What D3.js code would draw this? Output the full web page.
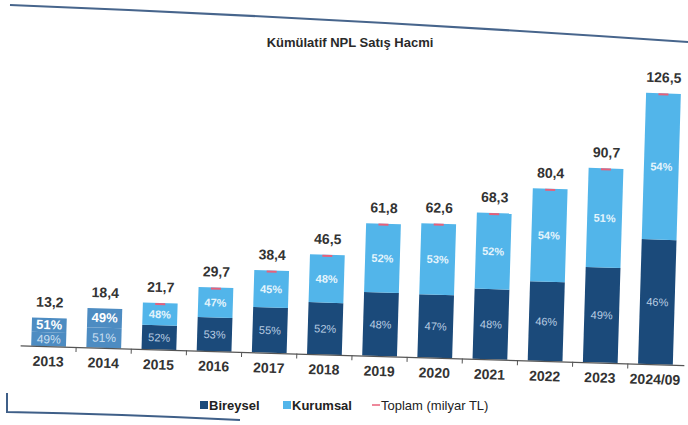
<!DOCTYPE html>
<html>
<head>
<meta charset="utf-8">
<script src="https://cdn.jsdelivr.net/npm/d3@7"></script>
<style>
  body { margin: 0; background: #fff; }
  svg { font-family: "Liberation Sans", Arial, sans-serif; }
</style>
</head>
<body>
<div id="chart"></div>
<script>
"use strict";

// values
const years = ["2013", "2014", "2015", "2016", "2017", "2018", "2019", "2020", "2021", "2022", "2023", "2024/09"];
const totals = [13.2, 18.4, 21.7, 29.7, 38.4, 46.5, 61.8, 62.6, 68.3, 80.4, 90.7, 126.5];
const bireyselPct = [49, 51, 52, 53, 55, 52, 48, 47, 48, 46, 49, 46];
const kurumsalPct = [51, 49, 48, 47, 45, 48, 52, 53, 52, 54, 51, 54];
// first two years are pasted in as a single-colour box in the source
const patchedYears = ["2013", "2014"];

const width = 688, height = 425;
const baseY = 355;
const colors = { bireysel: "#1b4a7a", kurumsal: "#52b5ea", patched: "#4d8cc2", toplam: "#e8607a" };

const svg = d3.select("#chart").append("svg")
    .attr("width", width)
    .attr("height", height);

// scan frame bits
svg.append("path")
    .attr("d", "M10,5 Q340,18 688,42")
    .attr("fill", "none").attr("stroke", "#47658c").attr("stroke-width", 2.2);
svg.append("path")
    .attr("d", "M7,393 L7,412 Q120,414 240,420")
    .attr("fill", "none").attr("stroke", "#3f5f88").attr("stroke-width", 2);

svg.append("text")
    .attr("x", 350).attr("y", 47)
    .attr("text-anchor", "middle")
    .attr("font-size", 13).attr("font-weight", "bold").attr("fill", "#2a2a2a")
    .attr("font-family", "'Liberation Sans Narrow', 'Liberation Sans', Arial, sans-serif")
    .style("font-stretch", "condensed")
    .text("Kümülatif NPL Satış Hacmi");

// the page is a little rotated in the scan
const g = svg.append("g").attr("transform", `rotate(1.7, 344, ${baseY})`);

const x = d3.scaleBand().domain(years).range([20, 684]).paddingInner(0.37).paddingOuter(0.2);
const y = d3.scaleLinear().domain([0, 126.5]).range([baseY, baseY - 271]);

const data = years.map((yr, i) => ({
    year: yr,
    total: totals[i],
    bir: totals[i] * bireyselPct[i] / 100,
    kur: totals[i] * kurumsalPct[i] / 100,
    birPct: bireyselPct[i],
    kurPct: kurumsalPct[i],
    patched: patchedYears.includes(yr)
}));

const bars = g.selectAll(".bar").data(data).enter().append("g").attr("class", "bar");

// bireysel (bottom)
bars.append("rect")
    .attr("x", d => x(d.year))
    .attr("width", x.bandwidth())
    .attr("y", d => y(d.bir))
    .attr("height", d => baseY - y(d.bir))
    .attr("fill", d => d.patched ? colors.patched : colors.bireysel);

// kurumsal (top)
bars.append("rect")
    .attr("x", d => x(d.year))
    .attr("width", x.bandwidth())
    .attr("y", d => y(d.total))
    .attr("height", d => y(d.bir) - y(d.total))
    .attr("fill", d => d.patched ? colors.patched : colors.kurumsal);

// toplam marker
bars.filter(d => !d.patched).append("line")
    .attr("x1", d => x(d.year) + x.bandwidth() / 2 - 5)
    .attr("x2", d => x(d.year) + x.bandwidth() / 2 + 5)
    .attr("y1", d => y(d.total) + 1)
    .attr("y2", d => y(d.total) + 1)
    .attr("stroke", colors.toplam).attr("stroke-width", 2);

// percentage labels
bars.append("text")
    .attr("x", d => x(d.year) + x.bandwidth() / 2)
    .attr("y", d => (y(d.total) + y(d.bir)) / 2 + 4)
    .attr("text-anchor", "middle")
    .attr("font-size", d => d.patched ? 13 : 11)
    .attr("font-weight", "bold")
    .attr("fill", d => d.patched ? "#fff" : "#e4f4fc")
    .text(d => d.kurPct + "%");

bars.append("text")
    .attr("x", d => x(d.year) + x.bandwidth() / 2)
    .attr("y", d => (y(d.bir) + baseY) / 2 + 4)
    .attr("text-anchor", "middle")
    .attr("font-size", d => d.patched ? 12 : 11)
    .attr("fill", d => d.patched ? "#c9dff0" : "#b9cde2")
    .text(d => d.birPct + "%");

// total labels
bars.append("text")
    .attr("x", d => x(d.year) + x.bandwidth() / 2)
    .attr("y", d => y(d.total) - 11)
    .attr("text-anchor", "middle")
    .attr("font-size", 14).attr("font-weight", "bold").attr("fill", "#333")
    .text(d => d3.format(".1f")(d.total).replace(".", ","));

// x axis
const xAxis = g.append("g")
    .attr("transform", `translate(0, ${baseY})`)
    .call(d3.axisBottom(x).tickSize(0).tickPadding(10));
xAxis.select(".domain").attr("stroke", "#555").attr("stroke-width", 1.3);
xAxis.selectAll("text")
    .attr("font-size", 14).attr("font-weight", "bold").attr("fill", "#333")
    .attr("font-family", "Liberation Sans, Arial, sans-serif");

const step = x.step();
xAxis.selectAll(".sep").data(years.slice(1)).enter().append("line")
    .attr("x1", d => x(d) - step * x.paddingInner() / 2)
    .attr("x2", d => x(d) - step * x.paddingInner() / 2)
    .attr("y1", 0).attr("y2", 5)
    .attr("stroke", "#555");

// legend
const legend = svg.append("g").attr("transform", "translate(0, 410)");
const items = [
    { label: "Bireysel", color: colors.bireysel, x: 200, type: "square", bold: true },
    { label: "Kurumsal", color: colors.kurumsal, x: 283, type: "square", bold: true },
    { label: "Toplam (milyar TL)", color: colors.toplam, x: 372, type: "line", bold: false }
];
items.forEach(it => {
    if (it.type === "square") {
        legend.append("rect").attr("x", it.x).attr("y", -9).attr("width", 8).attr("height", 8).attr("fill", it.color);
    } else {
        legend.append("line").attr("x1", it.x).attr("x2", it.x + 8).attr("y1", -5).attr("y2", -5)
            .attr("stroke", it.color).attr("stroke-width", 1.5);
    }
    legend.append("text").attr("x", it.x + 9).attr("y", 0)
        .attr("font-size", 13).attr("fill", "#222")
        .attr("font-weight", it.bold ? "bold" : "normal")
        .text(it.label);
});
</script>
</body>
</html>
